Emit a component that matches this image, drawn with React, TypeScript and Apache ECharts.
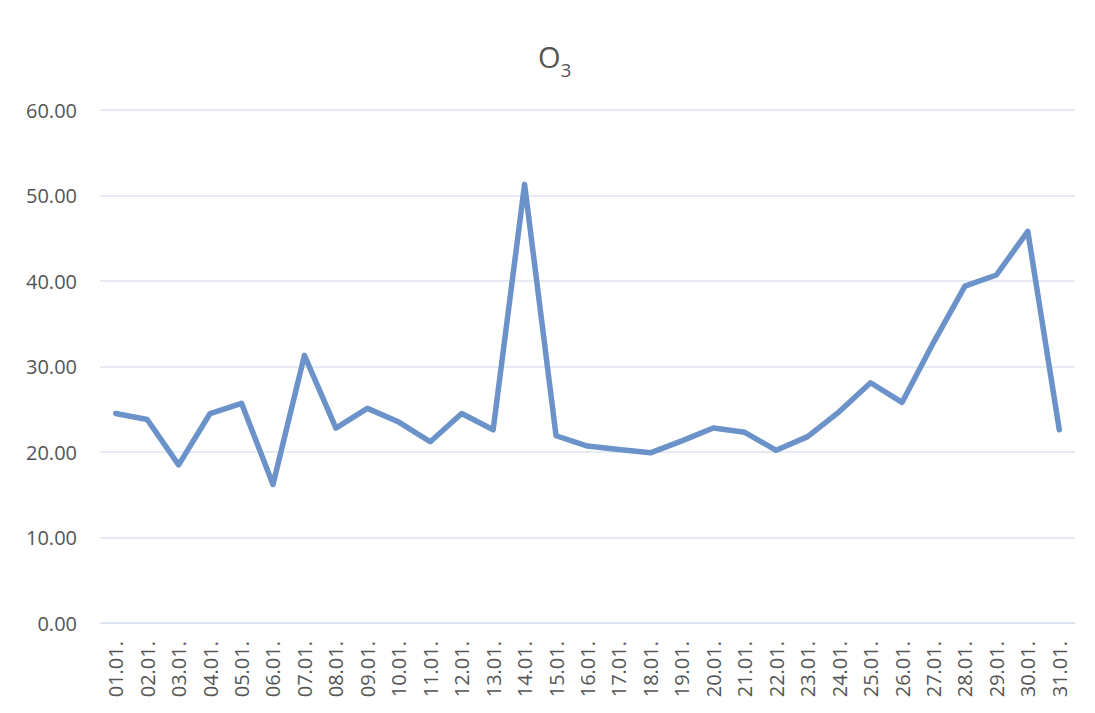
import React, { useEffect, useRef } from "react";
import * as echarts from "echarts";

const categories = [
  "01.01.", "02.01.", "03.01.", "04.01.", "05.01.", "06.01.", "07.01.", "08.01.",
  "09.01.", "10.01.", "11.01.", "12.01.", "13.01.", "14.01.", "15.01.", "16.01.",
  "17.01.", "18.01.", "19.01.", "20.01.", "21.01.", "22.01.", "23.01.", "24.01.",
  "25.01.", "26.01.", "27.01.", "28.01.", "29.01.", "30.01.", "31.01.",
];

const o3Values = [
  24.5, 23.8, 18.5, 24.5, 25.7, 16.2, 31.3, 22.8, 25.1, 23.5, 21.2, 24.5, 22.6,
  51.3, 21.9, 20.7, 20.3, 19.9, 21.3, 22.8, 22.3, 20.2, 21.8, 24.7, 28.1, 25.8,
  32.8, 39.4, 40.7, 45.8, 22.6,
];

const yTicks = { min: 0, max: 60, interval: 10 };

export default function App() {
  const ref = useRef<HTMLDivElement>(null);
  useEffect(() => {
    if (!ref.current) return;
    const chart = echarts.init(ref.current, undefined, { renderer: "svg" });
    const textColor = "#555555";
    const gridColor = "#dce3ef";
    chart.setOption({
      animation: false,
      backgroundColor: "#ffffff",
      title: {
        text: "{o|O}{s|3}",
        left: 533,
        top: 32,
        textStyle: {
          fontWeight: "normal",
          rich: {
            o: { fontSize: 29, fontWeight: "normal", color: textColor, fontFamily: "Open Sans", lineHeight: 34, verticalAlign: "bottom" },
            s: { fontSize: 19, fontWeight: "normal", color: textColor, fontFamily: "Open Sans", lineHeight: 34, verticalAlign: "bottom", padding: [0, 0, -8, 0] },
          },
        },
      },
      grid: { left: 100, right: 20, top: 110, bottom: 90, containLabel: false },
      xAxis: {
        type: "category",
        data: categories,
        boundaryGap: true,
        axisLine: { show: true, lineStyle: { color: gridColor, width: 1.5 } },
        axisTick: { show: false },
        axisLabel: {
          rotate: 90,
          margin: 18,
          color: textColor,
          fontSize: 20,
          fontFamily: "Open Sans",
          interval: 0,
        },
      },
      yAxis: {
        type: "value",
        min: yTicks.min,
        max: yTicks.max,
        interval: yTicks.interval,
        axisLine: { show: false },
        axisTick: { show: false },
        splitLine: { lineStyle: { color: gridColor, width: 1.5 } },
        axisLabel: {
          color: textColor,
          fontSize: 20,
          fontFamily: "Open Sans",
          margin: 23,
          formatter: (v: number) => v.toFixed(2),
        },
      },
      series: [
        {
          name: "O3",
          type: "line",
          data: o3Values,
          showSymbol: false,
          symbol: "none",
          lineStyle: { color: "#6b92c9", width: 5.5, join: "round", cap: "round" },
          itemStyle: { color: "#6b92c9" },
        },
      ],
    });
    return () => chart.dispose();
  }, []);
  return (
    <div
      ref={ref}
      style={{ position: "fixed", left: 0, top: 0, width: 1095, height: 713 }}
    />
  );
}
